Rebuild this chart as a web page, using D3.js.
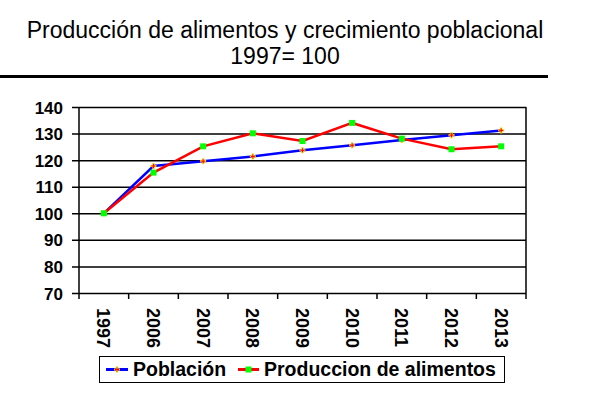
<!DOCTYPE html>
<meta charset="utf-8">
<style>
body { margin: 0; background: #fff; }
text { font-family: "Liberation Sans", Arial, sans-serif; }
</style>
<body>
<svg width="600" height="400"></svg>
<script src="https://cdn.jsdelivr.net/npm/d3@7"></script>
<script>
var years = ["1997", "2006", "2007", "2008", "2009", "2010", "2011", "2012", "2013"]
var poblacion = [100, 117.8, 119.6, 121.4, 123.7, 125.6, 127.6, 129.4, 131.2]
var produccion = [100, 115.3, 125.2, 130.1, 127.2, 134, 128.1, 124.1, 125.2]
var yTicks = [70, 80, 90, 100, 110, 120, 130, 140]

var svg = d3.select("svg")
var pLeft = 79, pRight = 526, pTop = 107, pBottom = 293
var boldFont = "Liberation Sans, Arial, sans-serif"

var x = d3.scaleBand().domain(years).range([pLeft, pRight])
var y = d3.scaleLinear().domain([70, 140]).range([pBottom, pTop])

// title
svg.append("text").attr("x", 285).attr("y", 38).attr("text-anchor", "middle")
  .style("font-size", "23px").text("Producción de alimentos y crecimiento poblacional")
svg.append("text").attr("x", 285).attr("y", 64).attr("text-anchor", "middle")
  .style("font-size", "23px").text("1997= 100")
svg.append("line").attr("x1", 0).attr("x2", 548).attr("y1", 76.5).attr("y2", 76.5)
  .attr("stroke", "#000").attr("stroke-width", 3)

// y axis with gridlines
var yAxis = svg.append("g").attr("transform", "translate(" + pLeft + ",0)")
  .call(d3.axisLeft(y).tickValues(yTicks).tickSize(-(pRight - pLeft)).tickSizeOuter(0))
yAxis.select(".domain").remove()
yAxis.selectAll(".tick line").attr("x1", -7).attr("stroke", "#000").attr("stroke-width", 1.5)
yAxis.selectAll(".tick text").attr("x", -16).attr("dy", "0.36em")
  .style("font-size", "17px").style("font-weight", "bold").style("font-family", boldFont)
  .attr("fill", "#000")

svg.append("line").attr("x1", pLeft).attr("x2", pLeft).attr("y1", pTop).attr("y2", pBottom)
  .attr("stroke", "#000").attr("stroke-width", 1.5)

// x axis: labels rotated, ticks at category boundaries
var xAxis = svg.append("g").attr("transform", "translate(0," + pBottom + ")")
  .call(d3.axisBottom(x).tickSize(0))
xAxis.select(".domain").remove()
xAxis.selectAll(".tick text")
  .attr("transform", "translate(0,15) rotate(90)")
  .attr("x", 0).attr("y", 0).attr("dy", "0.36em")
  .attr("text-anchor", "start")
  .style("font-size", "18px").style("font-weight", "bold").style("font-family", boldFont)
  .attr("fill", "#000")
var bounds = years.map(function(d) { return x(d) }).concat([pRight])
svg.selectAll(".xb").data(bounds).enter().append("line")
  .attr("x1", function(d) { return d }).attr("x2", function(d) { return d })
  .attr("y1", pBottom).attr("y2", pBottom + 6)
  .attr("stroke", "#000").attr("stroke-width", 1.5)
svg.append("line").attr("x1", pRight).attr("x2", pRight).attr("y1", pTop).attr("y2", pBottom)
  .attr("stroke", "#000").attr("stroke-width", 1.5)

var cx = function(d, i) { return x(years[i]) + x.bandwidth() / 2 }
var line = d3.line().x(cx).y(function(d) { return y(d) })

function plusMarker(g, px, py) {
  g.append("path").attr("d", "M" + (px - 3) + "," + py + "h6M" + px + "," + (py - 3) + "v6")
    .attr("stroke", "#ffcc00").attr("stroke-width", 2.2)
  g.append("path").attr("d", "M" + (px - 2) + "," + py + "h4M" + px + "," + (py - 2) + "v4")
    .attr("stroke", "#ff0000").attr("stroke-width", 1)
}

svg.append("path").datum(poblacion).attr("d", line)
  .attr("fill", "none").attr("stroke", "#0000ff").attr("stroke-width", 2.5)
var pm = svg.append("g")
poblacion.forEach(function(d, i) { plusMarker(pm, cx(d, i), y(d)) })

svg.append("path").datum(produccion).attr("d", line)
  .attr("fill", "none").attr("stroke", "#ff0000").attr("stroke-width", 2.5)
svg.selectAll(".sq").data(produccion).enter().append("rect")
  .attr("x", function(d, i) { return cx(d, i) - 3 }).attr("y", function(d) { return y(d) - 3 })
  .attr("width", 6).attr("height", 6).attr("fill", "#00ff00")

// legend
var lg = svg.append("g")
lg.append("rect").attr("x", 99.5).attr("y", 356.5).attr("width", 405).attr("height", 26)
  .attr("fill", "#fff").attr("stroke", "#000").attr("stroke-width", 1)
lg.append("line").attr("x1", 106).attr("x2", 128).attr("y1", 369.5).attr("y2", 369.5)
  .attr("stroke", "#0000ff").attr("stroke-width", 3)
plusMarker(lg, 117, 369.5)
lg.append("text").attr("x", 133).attr("y", 376).style("font-size", "19.5px").style("font-weight", "bold")
  .text("Población")
lg.append("line").attr("x1", 238).attr("x2", 259).attr("y1", 369.5).attr("y2", 369.5)
  .attr("stroke", "#ff0000").attr("stroke-width", 3)
lg.append("rect").attr("x", 245.5).attr("y", 366.5).attr("width", 6).attr("height", 6).attr("fill", "#00ff00")
lg.append("text").attr("x", 264).attr("y", 376).style("font-size", "19.5px").style("font-weight", "bold")
  .text("Produccion de alimentos")
</script>
</body>
